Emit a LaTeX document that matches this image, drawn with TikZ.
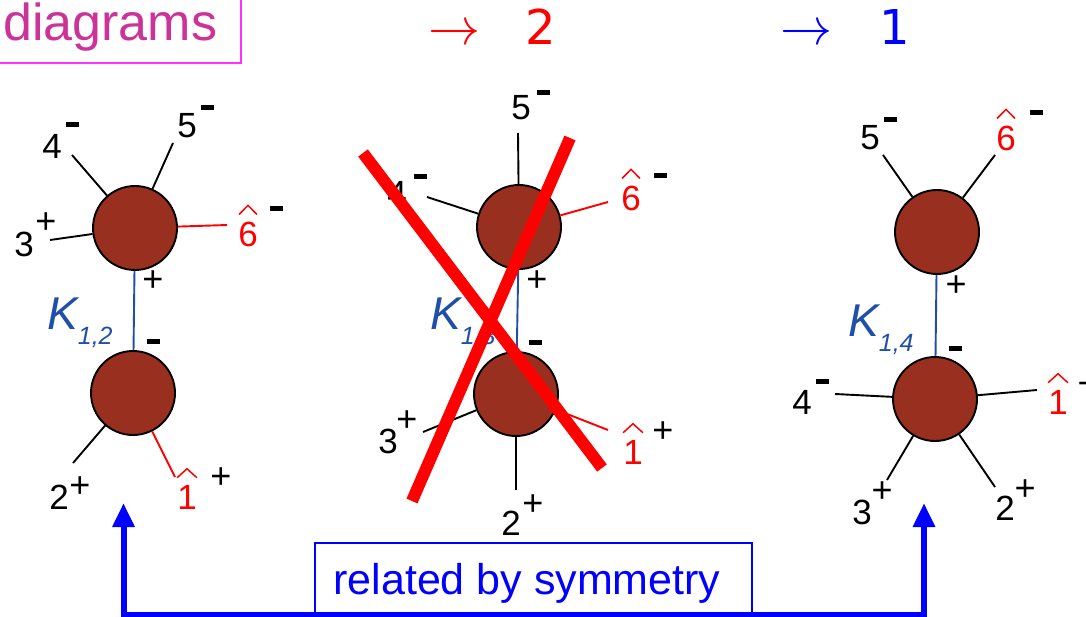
\documentclass[tikz,border=0pt]{standalone}
\usepackage{graphicx}
\usepackage{fontspec}
\setmainfont{Liberation Sans}
\newfontfamily\djv{DejaVu Sans}
\usetikzlibrary{arrows.meta,calc}
\definecolor{blobc}{HTML}{99301F}
\definecolor{kblue}{HTML}{1F4FA8}
\definecolor{titlepink}{HTML}{CC3399}
\definecolor{boxmag}{HTML}{FF33FF}
\definecolor{symblue}{HTML}{0000FF}
\tikzset{
  blob/.style={circle, draw=black, line width=1.9pt, fill=blobc, minimum size=84pt, inner sep=0pt},
  leg/.style={black, line width=1.9pt},
  rleg/.style={red, line width=1.9pt},
  kline/.style={kblue, line width=1.9pt},
  digit/.style={inner sep=0pt, font=\fontsize{35}{35}\selectfont},
  rdigit/.style={digit, text=red},
  bar/.style={fill=black, inner sep=0pt, minimum width=13pt, minimum height=5pt},
  pls/.style={inner sep=0pt, font=\fontsize{36}{36}\selectfont},
  hatl/.style={red, line width=1.5pt},
  klab/.style={inner sep=0pt, anchor=base west, text=kblue, font=\fontsize{46}{46}\selectfont\itshape},
  redx/.style={red, line width=12pt},
  symarrow/.style={symblue, line width=6pt, line join=miter},
  ttlarrow/.style={anchor=base west, inner sep=0pt},
  ttldigit/.style={anchor=base, inner sep=0pt, font=\djv\fontsize{48}{48}\selectfont},
}
\newcommand\ksub[1]{\raisebox{-15pt}{\fontsize{25}{25}\selectfont #1}}
\newcommand\bigarrow{\scalebox{5.2}{$\rightarrow$}}
\begin{document}
\begin{tikzpicture}[x=1pt,y=-1pt]
\useasboundingbox (0,0) rectangle (1086,617);
\clip (0,0) rectangle (1086,617);
\fill[white] (0,0) rectangle (1086,617);

% ---- title
\draw[boxmag, line width=2pt] (-10,-10) rectangle (241,63);
\node[anchor=base west, inner sep=0pt, text=titlepink, font=\fontsize{52}{52}\selectfont] (ttl) at (3,41) {diagrams};
\node[ttlarrow, text=red] (arr2) at (428,45) {\bigarrow};
\node[ttldigit, text=red] (two) at (541,45) {2};
\node[ttlarrow, text=symblue] (arr1) at (780,45) {\bigarrow};
\node[ttldigit, text=symblue] (one) at (895,45) {1};

% ---- left diagram
\node[blob] (a1) at (135,228) {};
\node[blob] (a2) at (133,393) {};
\coordinate (a4e) at (72,155);
\coordinate (a5e) at (173,143);
\coordinate (a3e) at (50,240);
\coordinate (a6e) at (227,225);
\coordinate (a2e) at (73,463);
\coordinate (a1e) at (175,477);
\draw[leg] (a1) -- (a4e);
\draw[leg] (a1) -- (a5e);
\draw[leg] (a1) -- (a3e);
\draw[rleg] (a1) -- (a6e);
\draw[leg] (a2) -- (a2e);
\draw[rleg] (a2) -- (a1e);
\draw[kline] (a1) -- (a2);
\node[digit] (la4) at (52,146) {4};
\node[bar] (la4s) at (72,125) {};
\node[digit] (la5) at (187,126) {5};
\node[bar] (la5s) at (207,108) {};
\node[digit] (la3) at (24,244) {3};
\node[pls] (la3s) at (46,223) {+};
\node[rdigit] (la6) at (248,234) {6};
\draw[hatl] ($(la6.north west)+(1,-7)$) -- ($(la6.north)+(0,-16)$) -- ($(la6.north east)+(-1,-7)$);
\node[bar] (la6s) at (276,209) {};
\node[digit] (la2) at (59,497) {2};
\node[pls] (la2s) at (80,487) {+};
\node[rdigit] (la1) at (187,497) {1};
\draw[hatl] ($(la1.north west)+(0,-7)$) -- ($(la1.north)+(0,-16)$) -- ($(la1.north east)+(0,-7)$);
\node[pls] (la1s) at (221,478) {+};
\node[pls] (lap) at (153,281) {+};
\node[bar] (lam) at (153,341) {};
\node[klab] (lak) at (47,330) {K\ksub{1,2}};

% ---- middle diagram
\node[blob] (b1) at (519,227) {};
\node[blob] (b2) at (516,394) {};
\coordinate (b5e) at (518,133);
\coordinate (b4e) at (427,197);
\coordinate (b6e) at (608,202);
\coordinate (b3e) at (423,432);
\coordinate (b1e) at (608,430);
\coordinate (b2e) at (516,490);
\draw[leg] (b1) -- (b5e);
\draw[leg] (b1) -- (b4e);
\draw[rleg] (b1) -- (b6e);
\draw[leg] (b2) -- (b3e);
\draw[rleg] (b2) -- (b1e);
\draw[leg] (b2) -- (b2e);
\draw[kline] (b1) -- (b2);
\node[digit] (lb5) at (521,108) {5};
\node[bar] (lb5s) at (543,93) {};
\node[digit] (lb4) at (397,193) {4};
\node[bar] (lb4s) at (420,177) {};
\node[rdigit] (lb6) at (631,198) {6};
\draw[hatl] ($(lb6.north west)+(1,-7)$) -- ($(lb6.north)+(0,-16)$) -- ($(lb6.north east)+(-1,-7)$);
\node[bar] (lb6s) at (660,176) {};
\node[digit] (lb3) at (388,441) {3};
\node[pls] (lb3s) at (407,421) {+};
\node[rdigit] (lb1) at (633,452) {1};
\draw[hatl] ($(lb1.north west)+(0,-7)$) -- ($(lb1.north)+(0,-16)$) -- ($(lb1.north east)+(0,-7)$);
\node[pls] (lb1s) at (663,432) {+};
\node[digit] (lb2) at (511,523) {2};
\node[pls] (lb2s) at (533,505) {+};
\node[pls] (lbp) at (537,281) {+};
\node[bar] (lbm) at (535,342) {};
\node[klab] (lbk) at (430,330) {K\ksub{1,3}};
\coordinate (x1a) at (363,153);
\coordinate (x1b) at (602,468);
\coordinate (x2a) at (570,138);
\coordinate (x2b) at (412,501);
\draw[redx] (x1a) -- (x1b);
\draw[redx] (x2a) -- (x2b);

% ---- right diagram
\node[blob] (c1) at (937,232) {};
\node[blob] (c2) at (935,399) {};
\coordinate (c5e) at (883,155);
\coordinate (c6e) at (995,155);
\coordinate (c4e) at (835,394);
\coordinate (c1e) at (1037,390);
\coordinate (c3e) at (887,480);
\coordinate (c2e) at (995,487);
\draw[leg] (c1) -- (c5e);
\draw[leg] (c1) -- (c6e);
\draw[leg] (c2) -- (c4e);
\draw[leg] (c2) -- (c1e);
\draw[leg] (c2) -- (c3e);
\draw[leg] (c2) -- (c2e);
\draw[kline] (c1) -- (c2);
\node[digit] (lc5) at (870,138) {5};
\node[bar] (lc5s) at (890,120) {};
\node[rdigit] (lc6) at (1006,138) {6};
\draw[hatl] ($(lc6.north west)+(1,-7)$) -- ($(lc6.north)+(0,-16)$) -- ($(lc6.north east)+(-1,-7)$);
\node[bar] (lc6s) at (1036,113) {};
\node[digit] (lc4) at (802,402) {4};
\node[bar] (lc4s) at (822,381) {};
\node[rdigit] (lc1) at (1058,402) {1};
\draw[hatl] ($(lc1.north west)+(0,-7)$) -- ($(lc1.north)+(0,-16)$) -- ($(lc1.north east)+(0,-7)$);
\node[pls] (lc1s) at (1088,385) {+};
\node[digit] (lc3) at (862,512) {3};
\node[pls] (lc3s) at (882,492) {+};
\node[digit] (lc2) at (1005,508) {2};
\node[pls] (lc2s) at (1025,490) {+};
\node[pls] (lcp) at (956,286) {+};
\node[bar] (lcm) at (955,348) {};
\node[klab] (lck) at (848,337) {K\ksub{1,4}};

% ---- symmetry arrow
\node[draw=symblue, line width=1.5pt, minimum width=437pt, minimum height=71pt, inner sep=0pt] (symbox) at (533.5,578.5) {};
\node[anchor=base, inner sep=0pt, text=symblue, font=\fontsize{43}{43}\selectfont] (symtxt) at (527,594) {related by symmetry};
\coordinate (tipL) at (123.5,503);
\coordinate (cornL) at (123.5,614.5);
\coordinate (cornR) at (924,614.5);
\coordinate (tipR) at (924,503);
\draw[symarrow, {Triangle[length=24pt,width=21pt]}-{Triangle[length=24pt,width=21pt]}] (tipL) -- (cornL) -- (cornR) -- (tipR);
\end{tikzpicture}
\end{document}
